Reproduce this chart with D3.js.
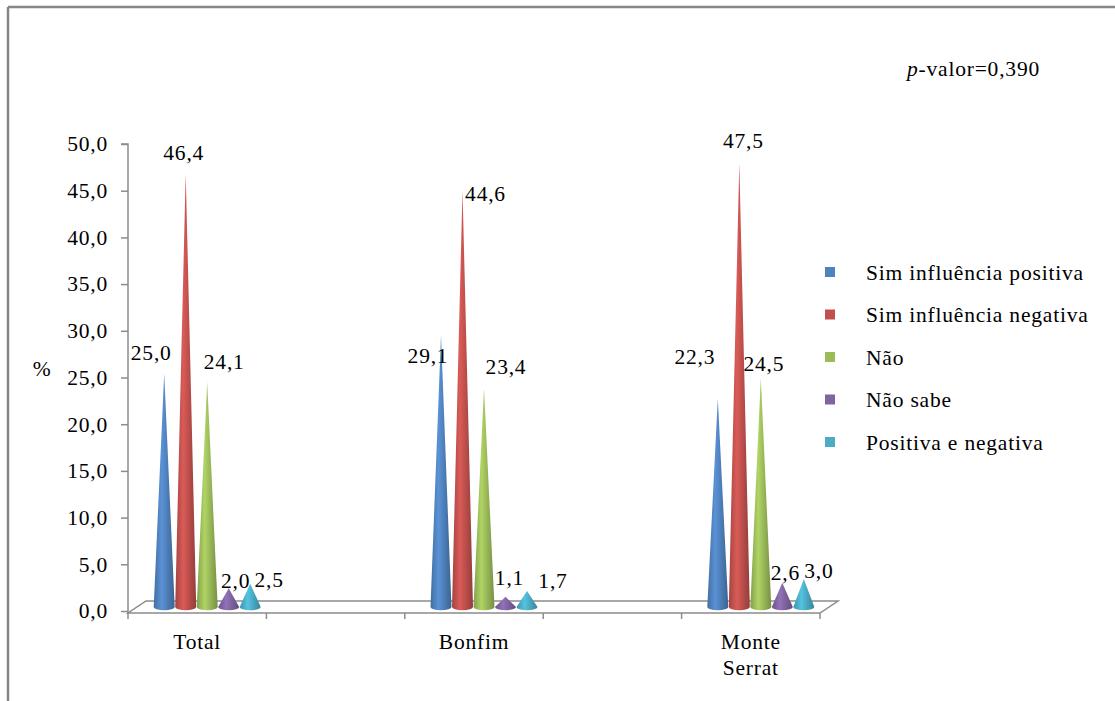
<!DOCTYPE html>
<html>
<head>
<meta charset="utf-8">
<script src="https://cdn.jsdelivr.net/npm/d3@7"></script>
<style>
  html, body { margin: 0; padding: 0; background: #fff; }
  svg text { font-family: "Liberation Serif", "Times New Roman", serif; font-size: 21.5px; fill: #000; letter-spacing: 0.8px; }
</style>
</head>
<body>
<svg id="chart" width="1115" height="701"></svg>
<script>
// ---------- data ----------
const categories = [["Total"], ["Bonfim"], ["Monte", "Serrat"]];
const seriesNames = ["Sim influência positiva", "Sim influência negativa", "Não", "Não sabe", "Positiva e negativa"];
const simPositiva = [25.0, 29.1, 22.3];
const simNegativa = [46.4, 44.6, 47.5];
const nao = [24.1, 23.4, 24.5];
const naoSabe = [2.0, 1.1, 2.6];
const positivaNegativa = [2.5, 1.7, 3.0];
const yTicks = [0, 5, 10, 15, 20, 25, 30, 35, 40, 45, 50];
const pValueText = "0,390";

// ---------- layout / style ----------
const colors = ["#4F81BD", "#C0504D", "#9BBB59", "#8064A2", "#4BACC6"];
// data label nudges (dx, dy) relative to cone apex, per category then series
const labelNudge = [
  [[-13, -21], [-2, -21], [17, -20], [7, -8], [19, -4]],
  [[-13, 20], [23, 3], [22, -22], [4, -19], [26, -11]],
  [[-23, -42], [4, -23], [3, -15], [3, -10], [15, -9]]
];

const seriesValues = [simPositiva, simNegativa, nao, naoSabe, positivaNegativa];
const fmt = v => d3.format(".1f")(v).replace(".", ",");

const svg = d3.select("#chart");
svg.append("rect").attr("width", 1115).attr("height", 701).attr("fill", "#fff");

// frame (top and left border)
const frameColor = "#878787";
svg.append("line").attr("x1", 8).attr("x2", 1115).attr("y1", 7).attr("y2", 7)
  .attr("stroke", frameColor).attr("stroke-width", 2.5);
svg.append("line").attr("x1", 8).attr("x2", 8).attr("y1", 7).attr("y2", 701)
  .attr("stroke", frameColor).attr("stroke-width", 2.5);

const y = d3.scaleLinear().domain([0, 50]).range([611, 144]);
const xCat = d3.scalePoint().domain(d3.range(categories.length)).range([128, 820]).padding(0.25);
const xTick = d3.scaleLinear().domain([0, 5]).range([128, 820]);

const axisColor = "#8c8c8c";
const depthX = 18, depthY = -12;
const floorY = 613;

// floor
const floor = svg.append("g").attr("stroke", axisColor).attr("stroke-width", 1.5).attr("fill", "none");
floor.append("path").attr("d",
  `M${xTick(0)},${floorY} L${xTick(5)},${floorY} L${xTick(5) + depthX},${floorY + depthY} L${xTick(0) + depthX},${floorY + depthY} Z`);
floor.selectAll("line.xt").data(d3.range(6)).join("line")
  .attr("x1", d => xTick(d)).attr("x2", d => xTick(d))
  .attr("y1", floorY).attr("y2", floorY + 6);

// y axis
const yAxis = d3.axisLeft(y).tickValues(yTicks).tickSize(7).tickPadding(13).tickFormat(fmt);
const gy = svg.append("g").attr("transform", "translate(128,0)").call(yAxis);
gy.select(".domain").attr("stroke", axisColor).attr("stroke-width", 1.5);
gy.selectAll(".tick line").attr("stroke", axisColor).attr("stroke-width", 1.5);
gy.selectAll(".tick text").style("font-family", "Liberation Serif").style("font-size", "21.5px").attr("fill", "#000");
gy.select(".domain").attr("d", `M-7,${y(50)}H0V${floorY}`);

svg.append("text").attr("x", 42).attr("y", 368).attr("dy", "0.35em").attr("text-anchor", "middle").text("%");

// category labels
categories.forEach((lines, i) => {
  const t = svg.append("text").attr("text-anchor", "middle").attr("x", xCat(i)).attr("y", 649);
  lines.forEach((ln, k) => t.append("tspan").attr("x", xCat(i)).attr("dy", k === 0 ? 0 : 26).text(ln));
});

// gradients
const defs = svg.append("defs");
colors.forEach((c, s) => {
  const g = defs.append("linearGradient").attr("id", "cone" + s).attr("x1", 0).attr("x2", 1).attr("y1", 0).attr("y2", 0);
  g.append("stop").attr("offset", "0%").attr("stop-color", d3.color(c).darker(0.45));
  g.append("stop").attr("offset", "38%").attr("stop-color", d3.color(c).brighter(0.35));
  g.append("stop").attr("offset", "100%").attr("stop-color", d3.color(c).darker(0.75));
});

// cones
const coneStep = 21.5, coneHalf = 10.5, ry = 3.2, lift = 4, shift = 10;
const cones = [];
categories.forEach((cat, ci) => {
  seriesValues.forEach((vals, si) => {
    const cx = xCat(ci) + shift + (si - 2) * coneStep;
    cones.push({ ci, si, v: vals[ci], cx, apex: y(vals[ci]) - lift, base: y(0) - lift });
  });
});
svg.append("g").selectAll("path").data(cones).join("path")
  .attr("d", d => `M${d.cx - coneHalf},${d.base} L${d.cx},${d.apex} L${d.cx + coneHalf},${d.base} A${coneHalf},${ry} 0 0 1 ${d.cx - coneHalf},${d.base} Z`)
  .attr("fill", d => `url(#cone${d.si})`);

// data labels
svg.append("g").selectAll("text").data(cones).join("text")
  .attr("text-anchor", "middle")
  .attr("x", d => d.cx + labelNudge[d.ci][d.si][0])
  .attr("y", d => d.apex + labelNudge[d.ci][d.si][1])
  .attr("dy", "0.35em")
  .text(d => fmt(d.v));

// legend
const lg = svg.append("g");
seriesNames.forEach((name, i) => {
  const yy = 272 + i * 42.5;
  lg.append("rect").attr("x", 825).attr("y", yy - 5).attr("width", 10).attr("height", 10).attr("fill", colors[i]);
  lg.append("text").attr("x", 866).attr("y", yy).attr("dy", "0.35em").text(name);
});

// p-value
const pt = svg.append("text").attr("x", 907).attr("y", 68).attr("dy", "0.35em");
pt.append("tspan").style("font-style", "italic").text("p");
pt.append("tspan").text("-valor=" + pValueText);
</script>
</body>
</html>
